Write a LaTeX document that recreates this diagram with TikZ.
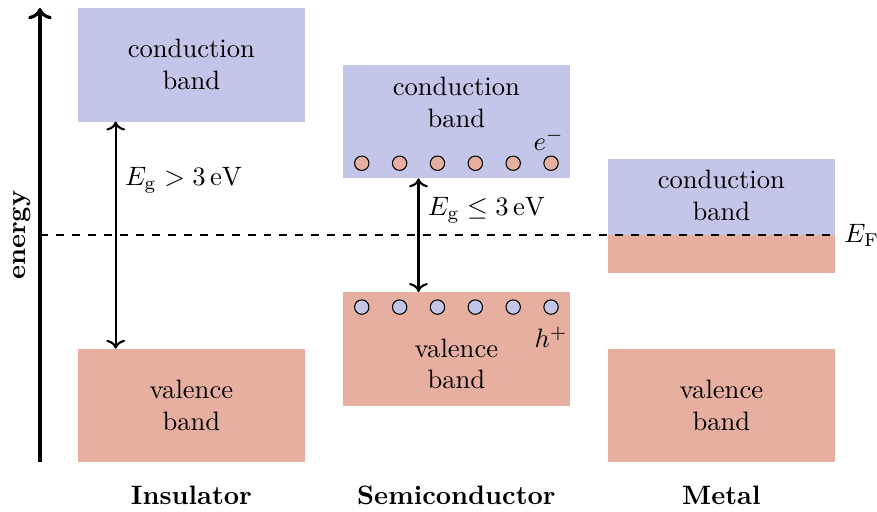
\documentclass[tikz,border=0pt]{standalone}
\usepackage{amsmath}
\usepackage{amssymb}
\usetikzlibrary{arrows.meta}

\definecolor{cbandcol}{RGB}{195,198,233}
\definecolor{vbandcol}{RGB}{230,175,160}

\begin{document}
\begin{tikzpicture}[
    cband/.style={fill=cbandcol, draw=none},
    vband/.style={fill=vbandcol, draw=none},
    bandtext/.style={align=center},
    gap/.style={<->, thick},
    carrier/.style={circle, draw=black, thin, minimum size=0.19cm, inner sep=0pt},
    material/.style={font=\bfseries}
]
\useasboundingbox (-0.528,-0.644) rectangle (11.055,6.106);

% energy axis
\coordinate (axbot) at (0,0);
\coordinate (axtop) at (0,6);
\draw[->, line width=1.2pt] (axbot) -- (axtop);
\node[rotate=90, anchor=south, font=\bfseries] (energy) at (0,3) {energy};

% insulator
\fill[cband] (0.5,4.5) rectangle (3.5,6);
\fill[vband] (0.5,0) rectangle (3.5,1.5);
\node[bandtext] (inscb) at (2,5.25) {conduction\\band};
\node[bandtext] (insvb) at (2,0.75) {valence\\band};
\coordinate (insgtop) at (1,4.5);
\coordinate (insgbot) at (1,1.5);
\draw[gap] (insgbot) -- (insgtop);
\node[right] (insgap) at (1,3.72) {$E_\mathrm{g} > 3\,\mathrm{eV}$};
\node[material] (insname) at (2,-0.44) {Insulator};

% semiconductor
\fill[cband] (4,3.75) rectangle (7,5.25);
\fill[vband] (4,0.75) rectangle (7,2.25);
\node[bandtext] (semcb) at (5.5,4.75) {conduction\\band};
\node[bandtext] (semvb) at (5.5,1.3) {valence\\band};
\foreach \i in {0,...,5} {
  \node[carrier, fill=vbandcol] (el\i) at (4.25+0.5*\i,3.95) {};
  \node[carrier, fill=cbandcol] (ho\i) at (4.25+0.5*\i,2.05) {};
}
\node (elec) at (6.72,4.26) {$e^-$};
\node (hole) at (6.75,1.65) {$h^+$};
\coordinate (semgtop) at (5,3.75);
\coordinate (semgbot) at (5,2.25);
\draw[gap] (semgbot) -- (semgtop);
\node[right] (semgap) at (5,3.33) {$E_\mathrm{g} \leq 3\,\mathrm{eV}$};
\node[material] (semname) at (5.5,-0.44) {Semiconductor};

% metal
\fill[cband] (7.5,3) rectangle (10.5,4);
\fill[vband] (7.5,2.5) rectangle (10.5,3);
\fill[vband] (7.5,0) rectangle (10.5,1.5);
\node[bandtext] (metcb) at (9,3.53) {conduction\\band};
\node[bandtext] (metvb) at (9,0.75) {valence\\band};
\node[material] (metname) at (9,-0.44) {Metal};

% Fermi level
\coordinate (fstart) at (0,3);
\coordinate (fend) at (10.5,3);
\draw[dashed, thick] (fstart) -- (fend);
\node[right] (ef) at (fend) {$E_\mathrm{F}$};
\end{tikzpicture}
\end{document}
